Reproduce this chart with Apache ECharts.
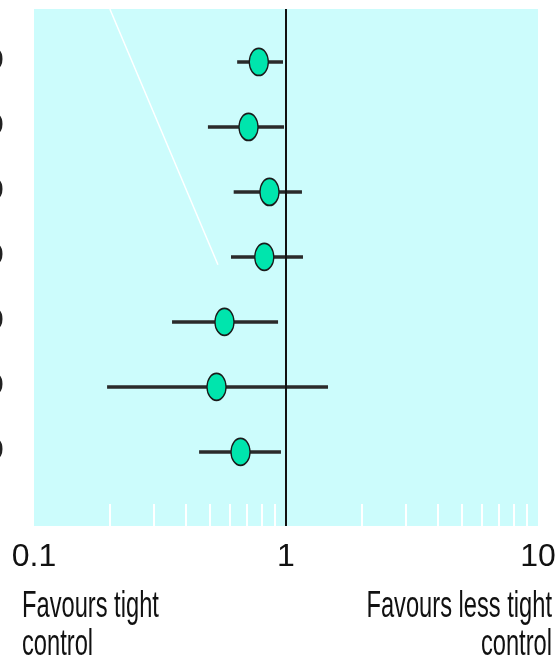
<!DOCTYPE html>
<html>
<head>
<meta charset="utf-8">
<script src="https://cdn.jsdelivr.net/npm/echarts@6/dist/echarts.min.js"></script>
<style>
  html, body { margin: 0; padding: 0; background: #fff; }
  #chart { width: 557px; height: 666px; }
</style>
</head>
<body>
<div id="chart"></div>
<script>
// one row per trial, top to bottom
const rows = [1, 2, 3, 4, 5, 6, 7]
const estimate = [0.78, 0.71, 0.86, 0.82, 0.57, 0.53, 0.66]
const lower = [0.64, 0.49, 0.62, 0.605, 0.353, 0.195, 0.452]
const upper = [0.973, 0.982, 1.157, 1.168, 0.93, 1.468, 0.955]
// small white ticks along the bottom of the panel
const minorTicks = [0.2, 0.3, 0.4, 0.5, 0.6, 0.7, 0.8, 0.9, 2, 3, 4, 5, 6, 7, 8, 9]
// thin white line crossing the upper left of the panel
const guideLine = [[0.2, 0.185], [0.537, 4.12]]

const font = '"Liberation Sans", Arial, sans-serif'

const chart = echarts.init(document.getElementById('chart'))

const option = {
  animation: false,
  grid: {
    left: 34,
    right: 19,
    top: 9,
    bottom: 140,
    show: true,
    backgroundColor: '#ccfcfc',
    borderWidth: 0,
    containLabel: false,
    outerBoundsMode: 'none'
  },
  xAxis: {
    type: 'log',
    logBase: 10,
    min: 0.1,
    max: 10,
    axisLine: { show: false },
    splitLine: { show: false },
    axisTick: {
      show: true,
      inside: true,
      length: 22,
      customValues: minorTicks,
      lineStyle: { color: '#ffffff', width: 2 }
    },
    axisLabel: {
      margin: 15,
      fontSize: 32,
      fontFamily: font,
      color: '#111',
      formatter: v => String(v)
    }
  },
  yAxis: {
    type: 'value',
    inverse: true,
    min: 0.185,
    max: 8.14,
    axisLine: { show: false },
    axisTick: { show: false },
    splitLine: { show: false },
    axisLabel: {
      customValues: rows,
      margin: 30,
      fontSize: 36,
      fontWeight: 'bold',
      fontFamily: font,
      color: '#222',
      formatter: () => 'O'
    }
  },
  graphic: [
    {
      type: 'text',
      x: 22,
      y: 588,
      scaleX: 0.64,
      style: {
        text: 'Favours tight\ncontrol',
        font: '37px ' + font,
        fill: '#111',
        lineHeight: 38,
        textAlign: 'left',
        textVerticalAlign: 'top'
      }
    },
    {
      type: 'text',
      x: 552,
      y: 588,
      scaleX: 0.64,
      style: {
        text: 'Favours less tight\ncontrol',
        font: '37px ' + font,
        fill: '#111',
        lineHeight: 38,
        textAlign: 'right',
        textVerticalAlign: 'top'
      }
    }
  ],
  series: [
    {
      name: 'guide',
      type: 'line',
      data: guideLine,
      symbol: 'none',
      silent: true,
      lineStyle: { color: '#ffffff', width: 1.5 },
      z: 1
    },
    {
      name: 'interval',
      type: 'custom',
      data: rows.map((r, i) => [lower[i], upper[i], r]),
      renderItem: (params, api) => {
        const a = api.coord([api.value(0), api.value(2)])
        const b = api.coord([api.value(1), api.value(2)])
        return {
          type: 'line',
          shape: { x1: a[0], y1: a[1], x2: b[0], y2: b[1] },
          style: { stroke: '#2a2a2a', lineWidth: 3.5 }
        }
      },
      z: 2
    },
    {
      name: 'estimate',
      type: 'scatter',
      data: rows.map((r, i) => [estimate[i], r]),
      symbol: 'path://M10,0 A10,14 0 1,1 10,28 A10,14 0 1,1 10,0 Z',
      symbolSize: [19, 27],
      itemStyle: {
        color: '#00e5ad',
        borderColor: '#1a1a1a',
        borderWidth: 1.5,
        opacity: 1
      },
      markLine: {
        silent: true,
        symbol: 'none',
        label: { show: false },
        lineStyle: { color: '#111', width: 2, type: 'solid' },
        data: [{ xAxis: 1 }]
      },
      z: 4
    }
  ]
}

chart.setOption(option)
</script>
</body>
</html>
